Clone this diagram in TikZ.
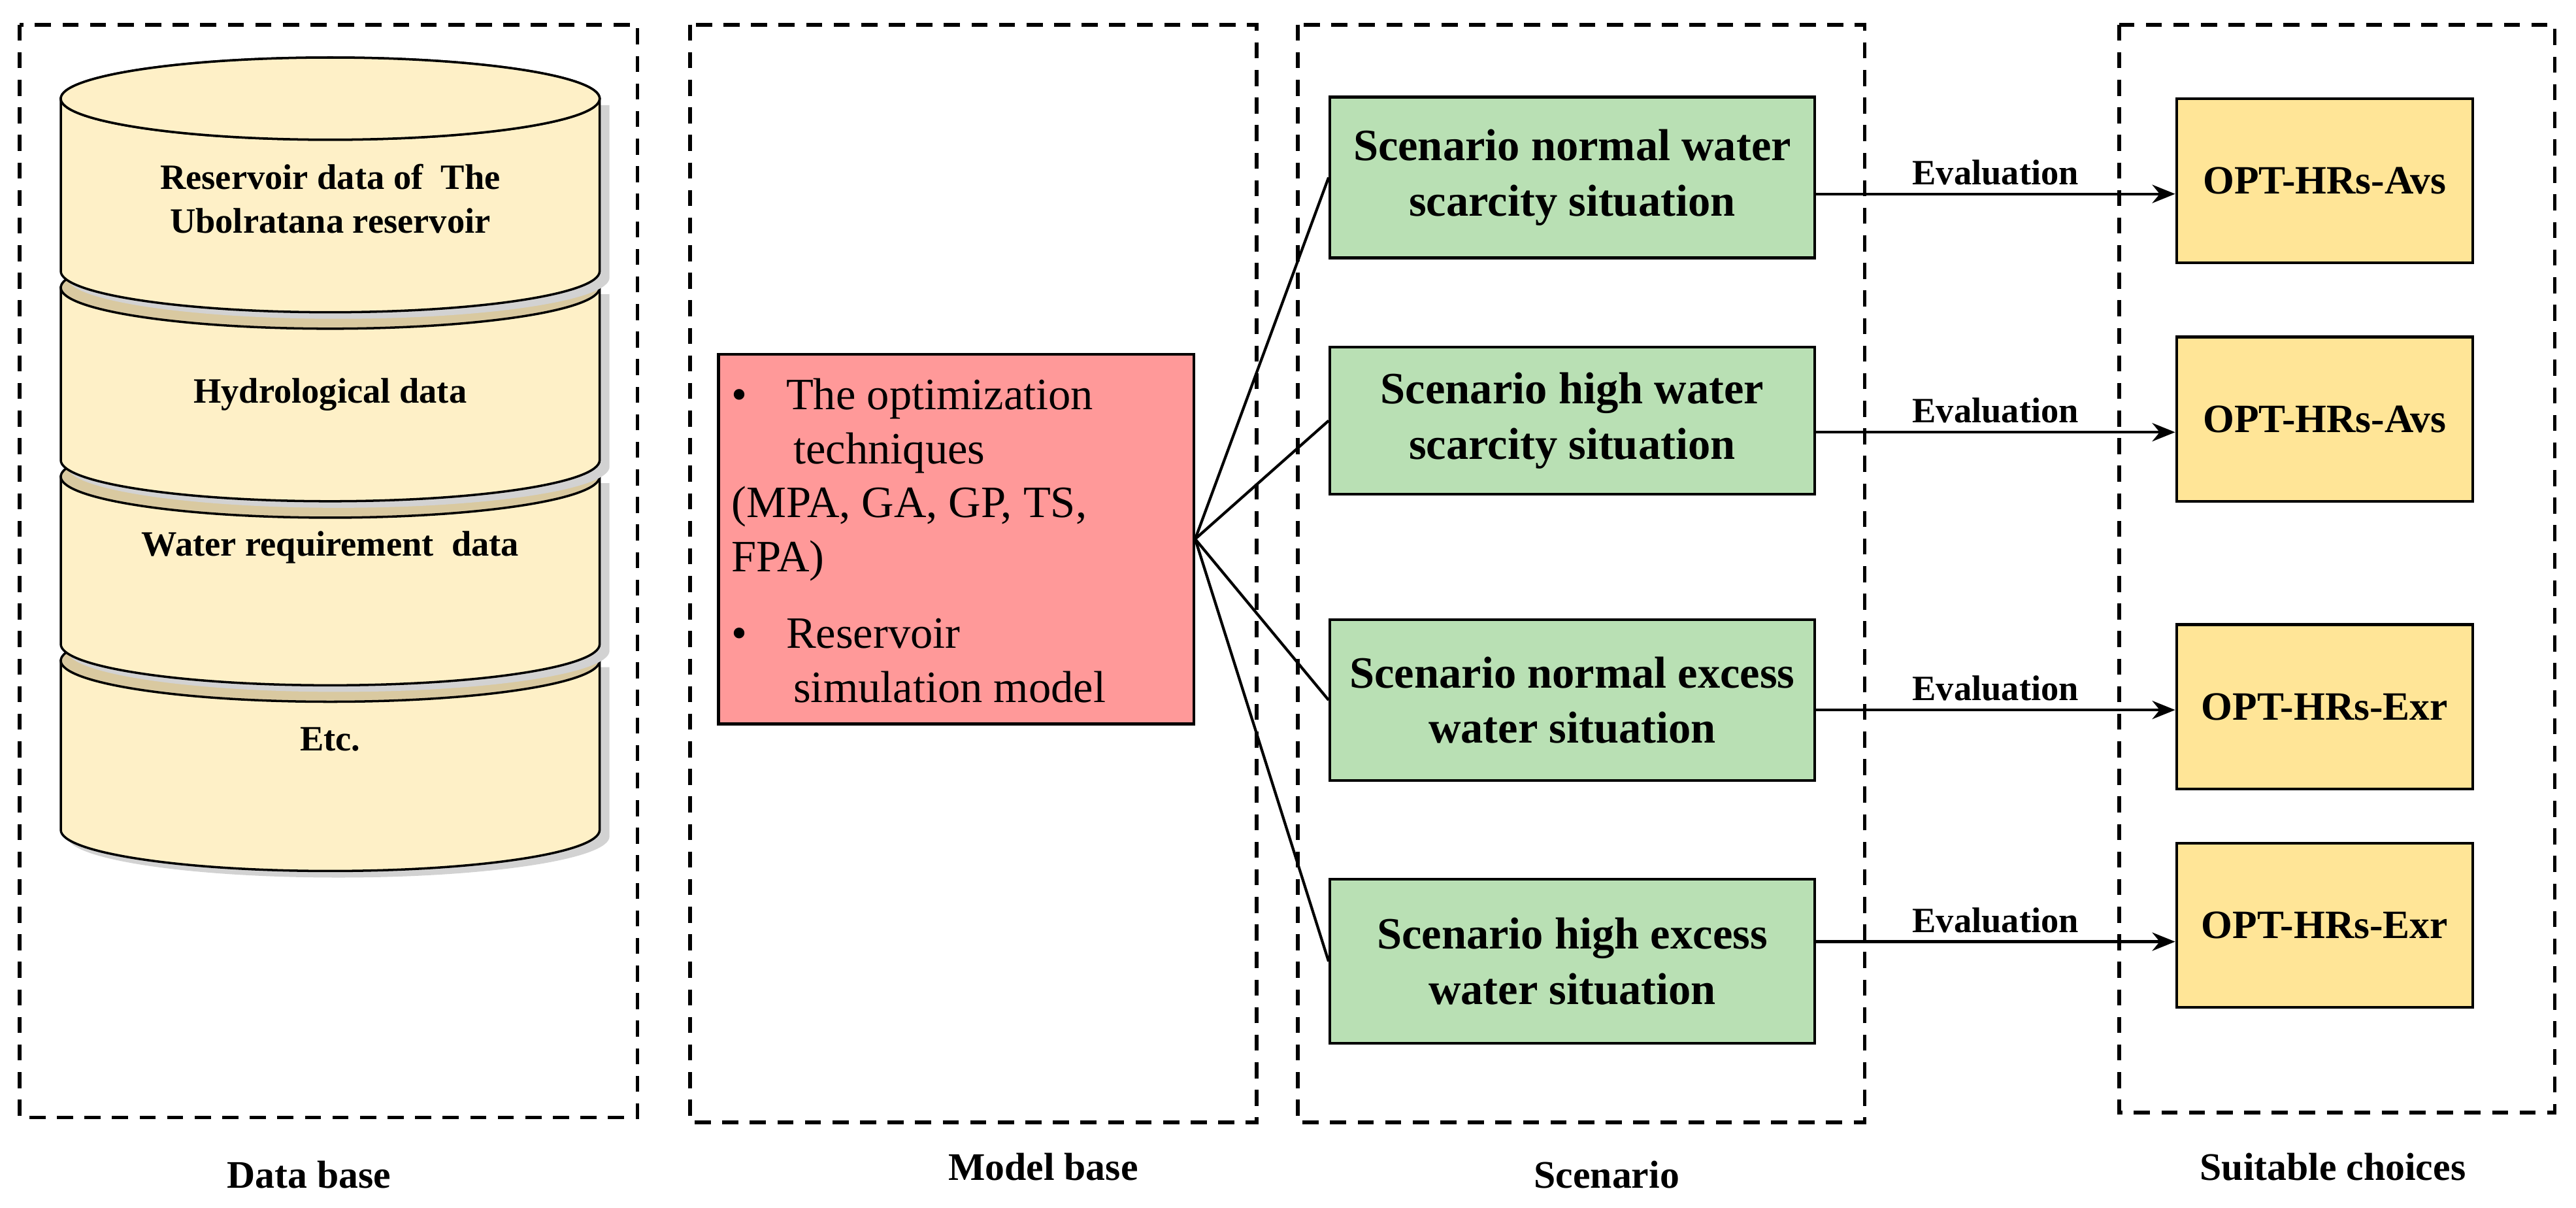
\documentclass[tikz,border=0pt]{standalone}
\usepackage{fontspec}
\setmainfont{Liberation Serif}
\usetikzlibrary{arrows.meta}
\definecolor{cyl}{HTML}{FEF0C7}
\definecolor{band}{HTML}{D9C9A0}
\definecolor{redf}{HTML}{FF9999}
\definecolor{greenf}{HTML}{B9E0B4}
\definecolor{yelf}{HTML}{FFE597}
\begin{document}
\begin{tikzpicture}[x=0.02514cm,y=-0.02514cm,
  dbox/.style={draw,dashed,line width=1.6pt,dash pattern=on 7pt off 5pt},
  lab/.style={font=\bfseries\fontsize{17}{20}\selectfont},
  cyltxt/.style={font=\bfseries\fontsize{15.5}{19}\selectfont,align=center},
  gbox/.style={draw,line width=1.2pt,fill=greenf,minimum width=211pt,minimum height=70pt,align=center,font=\bfseries\fontsize{19.5}{24}\selectfont},
  ybox/.style={draw,line width=1.2pt,fill=yelf,minimum width=129pt,minimum height=71.5pt,font=\bfseries\fontsize{17.5}{21}\selectfont},
  arr/.style={line width=1.2pt,-{Stealth[length=10pt,width=8pt]}},
  ln/.style={line width=1.2pt},
  ev/.style={font=\bfseries\fontsize{15.5}{18}\selectfont,above}]
\useasboundingbox (0,0) rectangle (1568,735);
% dashed boxes
\draw[dbox] (12,15) rectangle (388,680);
\draw[dbox] (420,15) rectangle (765,683);
\draw[dbox] (790,15) rectangle (1135,683);
\draw[dbox] (1290,15) rectangle (1555,677);
\node[lab] (l1) at (188,715) {Data base};
\node[lab] (l2) at (635,710) {Model base};
\node[lab] (l3) at (978,715) {Scenario};
\node[lab] (l4) at (1420,710) {Suitable choices};
% cylinder layers (bottom first)
\foreach \t/\b in {402/505,290/392,175/280,60/165}{
  \fill[gray!35] (41,\t+4) -- (41,\b+4) arc[start angle=180,end angle=0,x radius=165,y radius=25] -- (371,\t+4) -- cycle;
  \draw[line width=1pt,fill=cyl] (37,\t) -- (37,\b) arc[start angle=180,end angle=0,x radius=164,y radius=25] -- (365,\t) -- cycle;
  \draw[line width=1pt,fill=band] (201,\t) ellipse[x radius=164,y radius=25];
}
\draw[line width=1pt,fill=cyl] (201,60) ellipse[x radius=164,y radius=25];
\node[cyltxt] (c1) at (201,121) {Reservoir data of \ The\\Ubolratana reservoir};
\node[cyltxt] (c2) at (201,240) {Hydrological data};
\node[cyltxt] (c3) at (201,333) {Water requirement \ data};
\node[cyltxt] (c4) at (201,450) {Etc.};
% model
\node[draw,line width=1.2pt,fill=redf,minimum width=207pt,minimum height=161pt] (m) at (582,328) {};
\node[anchor=north west,align=left,font=\fontsize{19.5}{23.5}\selectfont,inner sep=0pt] (mt) at (445,230)
 {\textbullet\hspace{17pt}The optimization\\\hspace{27pt}techniques\\(MPA, GA, GP, TS,\\FPA)\\[10pt]\textbullet\hspace{17pt}Reservoir\\\hspace{27pt}simulation model};
% scenarios
\node[gbox] (g1) at (957,108) {Scenario normal water\\scarcity situation};
\node[gbox,minimum height=64pt] (g2) at (957,256) {Scenario high water\\scarcity situation};
\node[gbox] (g3) at (957,426) {Scenario normal excess\\water situation};
\node[gbox,minimum height=71.5pt] (g4) at (957,585) {Scenario high excess\\water situation};
\node[ybox] (y1) at (1415,110) {OPT-HRs-Avs};
\node[ybox] (y2) at (1415,255) {OPT-HRs-Avs};
\node[ybox] (y3) at (1415,430) {OPT-HRs-Exr};
\node[ybox] (y4) at (1415,563) {OPT-HRs-Exr};
\foreach \i in {1,...,4}{\draw[ln] (m.east) -- (g\i.west);}
\draw[arr] (g1.east|-0,118) -- node[ev]{Evaluation} (y1.west|-0,118);
\draw[arr] (g2.east|-0,263) -- node[ev]{Evaluation} (y2.west|-0,263);
\draw[arr] (g3.east|-0,432) -- node[ev]{Evaluation} (y3.west|-0,432);
\draw[arr] (g4.east|-0,573) -- node[ev]{Evaluation} (y4.west|-0,573);
\end{tikzpicture}
\end{document}
